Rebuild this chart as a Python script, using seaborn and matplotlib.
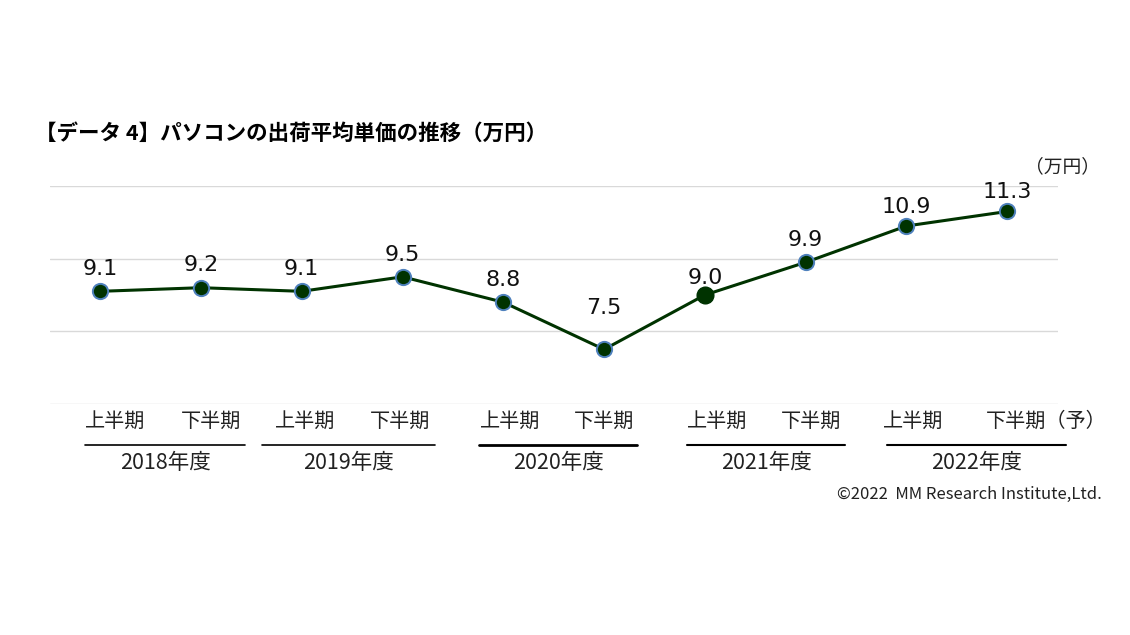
import seaborn as sns
import matplotlib.pyplot as plt
import pandas as pd

periods = ['上半期', '下半期', '上半期', '下半期', '上半期', '下半期', '上半期', '下半期', '上半期', '下半期（予）']
years = ['2018年度', '2019年度', '2020年度', '2021年度', '2022年度']
prices = [9.1, 9.2, 9.1, 9.5, 8.8, 7.5, 9.0, 9.9, 10.9, 11.3]

df = pd.DataFrame({'idx': range(len(prices)), 'price': prices})

sns.set_theme(style='white')
plt.rcParams['font.family'] = ['Noto Sans CJK JP', 'DejaVu Sans']

fig = plt.figure(figsize=(11.3, 6.35), dpi=100)
ax = fig.add_axes([0.044, 0.364, 0.892, 0.343])

line_c = '#003300'
sns.lineplot(data=df, x='idx', y='price', ax=ax, color=line_c, linewidth=2.2,
             marker='o', markersize=11, markerfacecolor=line_c,
             markeredgecolor='#4f81bd', markeredgewidth=1.4)
# the 2021 first-half point has no blue rim
ax.plot(df['idx'][6], df['price'][6], 'o', markersize=12, color=line_c,
        markeredgecolor=line_c, zorder=5)

ax.set_xlim(-0.5, 9.5)
ax.set_ylim(6, 12)
ax.set_yticks([6, 8, 10, 12])
ax.yaxis.grid(True, color='#d9d9d9', linewidth=1)
ax.set_yticklabels([])
ax.set_xticks([])
ax.set_xlabel('')
ax.set_ylabel('')
for s in ax.spines.values():
    s.set_visible(False)

# data labels (offsets in points)
offsets = [16, 16, 16, 16, 16, 30, 12, 16, 14, 14]
for i, v in enumerate(prices):
    ax.annotate(f'{v:.1f}', (i, v), xytext=(0, offsets[i]), textcoords='offset points',
                ha='center', va='center', fontsize=16, family='DejaVu Sans', color='#111111')

# x category labels
px = lambda x: x / 1130
py = lambda y: 1 - y / 635
label_x = [115, 211, 305, 400, 510, 604, 717, 811, 913, 1046]
for x, t in zip(label_x, periods):
    fig.text(px(x), py(421), t, ha='center', va='center', fontsize=14.5, color='#222222')

# year groups
year_spans = [(85, 245), (262, 435), (479, 637), (687, 845), (887, 1066)]
year_lw = [1.2, 1.2, 2, 1.5, 1.5]
for (x0, x1), t, lw in zip(year_spans, years, year_lw):
    fig.add_artist(plt.Line2D([px(x0), px(x1)], [py(445), py(445)], color='black', linewidth=lw))
    fig.text(px((x0 + x1) / 2), py(463), t, ha='center', va='center', fontsize=15.5, color='#222222')

fig.text(px(35), py(133), '【データ 4】パソコンの出荷平均単価の推移（万円）', ha='left', va='center',
         fontsize=15.5, fontweight='bold', color='black')
fig.text(px(1062), py(167), '（万円）', ha='center', va='center', fontsize=13.5, color='#222222')
fig.text(px(1102), py(494), '©2022  MM Research Institute,Ltd.', ha='right', va='center',
         fontsize=12, color='#222222')

fig.savefig('out.png', dpi=100)
